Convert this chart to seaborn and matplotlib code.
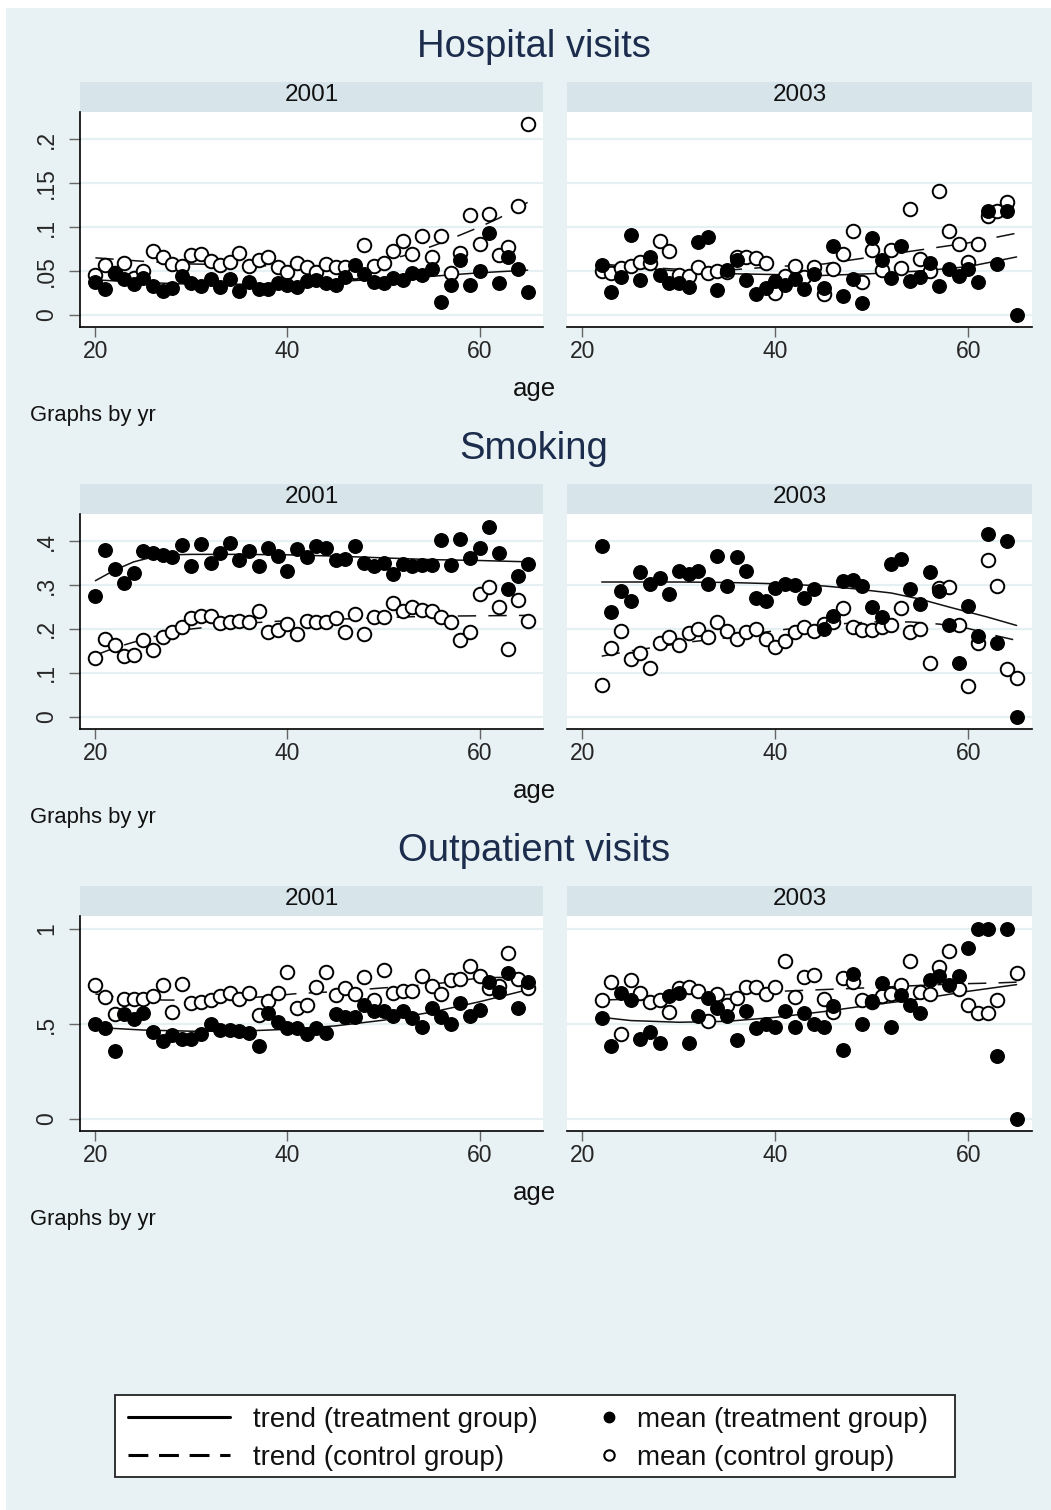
import numpy as np
import pandas as pd
import matplotlib
matplotlib.use("Agg")
import matplotlib.pyplot as plt
from matplotlib.lines import Line2D
from matplotlib.patches import Rectangle
import seaborn as sns

sns.set_theme(style="white")
plt.rcParams['font.family'] = ['Liberation Sans', 'DejaVu Sans']

# ---------------- data ----------------
ages_2001 = np.arange(20, 66)
ages_2003 = np.arange(22, 66)
nan = np.nan

hosp_2001_treat = [0.037, 0.030, 0.048, 0.041, 0.035, 0.042, 0.033, 0.027, 0.031, 0.044,
                   0.036, 0.033, 0.041, 0.032, 0.041, 0.027, 0.037, 0.030, 0.030, 0.036,
                   0.034, 0.032, 0.039, 0.040, 0.036, 0.034, 0.043, 0.057, 0.047, 0.038,
                   0.036, 0.042, 0.040, 0.048, 0.045, 0.052, 0.015, 0.034, 0.062, 0.034,
                   0.050, 0.093, 0.036, 0.066, 0.052, 0.026]
hosp_2001_ctrl = [0.045, 0.057, 0.048, 0.059, 0.042, 0.050, 0.073, 0.066, 0.058, 0.056,
                  0.068, 0.069, 0.061, 0.057, 0.060, 0.071, 0.056, 0.062, 0.066, 0.055,
                  0.049, 0.059, 0.055, 0.049, 0.058, 0.055, 0.055, 0.049, 0.080, 0.056,
                  0.059, 0.073, 0.084, 0.069, 0.090, 0.066, 0.090, 0.048, 0.071, 0.114,
                  0.081, 0.115, 0.068, 0.077, 0.124, 0.217]
hosp_2003_treat = [0.057, 0.026, 0.043, 0.091, 0.040, 0.066, 0.045, 0.036, 0.036, 0.032,
                   0.083, 0.089, 0.029, 0.051, 0.062, 0.040, 0.024, 0.031, 0.039, 0.034,
                   0.041, 0.030, 0.047, 0.031, 0.078, 0.022, 0.041, 0.014, 0.087, 0.063,
                   0.042, 0.079, 0.039, 0.043, 0.059, 0.033, 0.052, 0.044, 0.052, 0.037,
                   0.118, 0.058, 0.118, 0.000]
hosp_2003_ctrl = [0.050, 0.048, 0.053, 0.056, 0.060, 0.059, 0.084, 0.073, 0.046, 0.044,
                  0.055, 0.048, 0.050, 0.049, 0.066, 0.066, 0.065, 0.059, 0.025, 0.044,
                  0.056, 0.043, 0.055, 0.024, 0.052, 0.069, 0.095, 0.037, 0.074, 0.051,
                  0.074, 0.053, 0.121, 0.064, 0.050, 0.141, 0.096, 0.081, 0.060, 0.081,
                  0.112, 0.118, 0.129, nan]

smoke_2001_treat = [0.274, 0.381, 0.336, 0.305, 0.327, 0.378, 0.373, 0.368, 0.364, 0.391,
                    0.344, 0.393, 0.351, 0.373, 0.395, 0.357, 0.378, 0.343, 0.384, 0.366,
                    0.332, 0.382, 0.363, 0.390, 0.385, 0.357, 0.360, 0.388, 0.351, 0.343,
                    0.351, 0.325, 0.348, 0.343, 0.345, 0.345, 0.403, 0.345, 0.405, 0.362,
                    0.385, 0.433, 0.374, 0.291, 0.321, 0.348]
smoke_2001_ctrl = [0.134, 0.177, 0.163, 0.138, 0.141, 0.174, 0.153, 0.181, 0.192, 0.204,
                   0.226, 0.229, 0.229, 0.214, 0.216, 0.219, 0.216, 0.241, 0.193, 0.197,
                   0.212, 0.189, 0.219, 0.216, 0.216, 0.224, 0.193, 0.234, 0.189, 0.227,
                   0.227, 0.259, 0.242, 0.249, 0.243, 0.242, 0.227, 0.216, 0.175, 0.192,
                   0.280, 0.296, 0.250, 0.155, 0.265, 0.218]
smoke_2003_treat = [0.389, 0.239, 0.287, 0.264, 0.330, 0.303, 0.316, 0.279, 0.332, 0.325,
                    0.332, 0.303, 0.366, 0.297, 0.363, 0.332, 0.271, 0.264, 0.294, 0.303,
                    0.301, 0.271, 0.292, 0.199, 0.230, 0.309, 0.311, 0.297, 0.249, 0.227,
                    0.347, 0.360, 0.292, 0.258, 0.329, 0.286, 0.208, 0.122, 0.252, 0.183,
                    0.417, 0.167, 0.401, 0.000]
smoke_2003_ctrl = [0.073, 0.157, 0.195, 0.132, 0.146, 0.110, 0.168, 0.182, 0.164, 0.191,
                   0.199, 0.182, 0.217, 0.195, 0.178, 0.193, 0.199, 0.176, 0.160, 0.172,
                   0.193, 0.205, 0.195, 0.212, 0.216, 0.248, 0.205, 0.198, 0.198, 0.204,
                   0.208, 0.248, 0.193, 0.199, 0.123, 0.294, 0.295, 0.210, 0.071, 0.168,
                   0.358, 0.298, 0.108, 0.088]

out_2001_treat = [0.500, 0.479, 0.358, 0.553, 0.526, 0.560, 0.458, 0.411, 0.444, 0.419,
                  0.419, 0.447, 0.500, 0.468, 0.468, 0.461, 0.453, 0.382, 0.556, 0.509,
                  0.481, 0.479, 0.447, 0.477, 0.453, 0.554, 0.539, 0.535, 0.600, 0.570,
                  0.570, 0.544, 0.567, 0.530, 0.482, 0.582, 0.535, 0.500, 0.609, 0.542,
                  0.574, 0.719, 0.667, 0.767, 0.582, 0.723]
out_2001_ctrl = [0.707, 0.640, 0.553, 0.630, 0.630, 0.630, 0.649, 0.705, 0.565, 0.711,
                 0.611, 0.618, 0.626, 0.649, 0.661, 0.632, 0.661, 0.546, 0.623, 0.661,
                 0.772, 0.586, 0.602, 0.693, 0.772, 0.653, 0.688, 0.656, 0.746, 0.626,
                 0.782, 0.663, 0.674, 0.674, 0.754, 0.702, 0.658, 0.733, 0.737, 0.807,
                 0.751, 0.689, 0.700, 0.874, 0.737, 0.689]
out_2003_treat = [0.530, 0.384, 0.665, 0.625, 0.421, 0.456, 0.402, 0.647, 0.665, 0.402,
                  0.544, 0.639, 0.586, 0.544, 0.418, 0.570, 0.481, 0.500, 0.482, 0.570,
                  0.482, 0.558, 0.500, 0.482, 0.593, 0.363, 0.763, 0.500, 0.623, 0.714,
                  0.482, 0.653, 0.602, 0.556, 0.733, 0.751, 0.707, 0.751, 0.900, 1.000,
                  1.000, 0.333, 1.000, 0.000]
out_2003_ctrl = [0.626, 0.723, 0.447, 0.732, 0.665, 0.614, 0.626, 0.565, 0.689, 0.693,
                 0.675, 0.514, 0.658, 0.602, 0.635, 0.693, 0.693, 0.658, 0.693, 0.830,
                 0.644, 0.746, 0.760, 0.632, 0.565, 0.742, 0.720, 0.626, 0.614, 0.646,
                 0.658, 0.705, 0.830, 0.667, 0.658, 0.798, 0.882, 0.684, 0.602, 0.556,
                 0.556, 0.626, nan, 0.770]

# trend lines, read at a few ages
hosp_2001_treat_trend_age = [20, 25, 30, 35, 40, 45, 50, 55, 60, 65]
hosp_2001_treat_trend = [0.040, 0.037, 0.035, 0.035, 0.036, 0.038, 0.041, 0.044, 0.048, 0.051]
hosp_2001_ctrl_trend_age = [20, 25, 30, 35, 40, 45, 48, 50, 52, 54, 56, 58, 60, 62, 65]
hosp_2001_ctrl_trend = [0.065, 0.061, 0.058, 0.057, 0.055, 0.056, 0.058, 0.062, 0.067, 0.074,
                        0.082, 0.091, 0.100, 0.110, 0.128]
hosp_2003_treat_trend_age = [22, 25, 30, 35, 40, 45, 50, 55, 60, 65]
hosp_2003_treat_trend = [0.056, 0.054, 0.050, 0.047, 0.046, 0.045, 0.047, 0.050, 0.055, 0.066]
hosp_2003_ctrl_trend_age = [22, 25, 30, 35, 40, 45, 50, 55, 60, 65]
hosp_2003_ctrl_trend = [0.058, 0.055, 0.052, 0.051, 0.055, 0.058, 0.066, 0.074, 0.082, 0.093]

smoke_2001_treat_trend_age = [20, 22, 24, 26, 28, 30, 35, 40, 45, 50, 55, 60, 65]
smoke_2001_treat_trend = [0.310, 0.334, 0.353, 0.364, 0.369, 0.370, 0.370, 0.369, 0.366,
                          0.362, 0.358, 0.356, 0.353]
smoke_2001_ctrl_trend_age = [20, 22, 24, 26, 28, 30, 35, 40, 45, 50, 55, 60, 65]
smoke_2001_ctrl_trend = [0.140, 0.157, 0.170, 0.182, 0.193, 0.200, 0.212, 0.219, 0.222,
                         0.226, 0.229, 0.230, 0.231]
smoke_2003_treat_trend_age = [22, 25, 30, 35, 40, 45, 48, 52, 55, 58, 62, 65]
smoke_2003_treat_trend = [0.307, 0.307, 0.307, 0.306, 0.303, 0.298, 0.292, 0.282, 0.268,
                          0.250, 0.227, 0.208]
smoke_2003_ctrl_trend_age = [22, 25, 28, 31, 35, 38, 41, 44, 47, 50, 54, 57, 60, 63, 65]
smoke_2003_ctrl_trend = [0.138, 0.150, 0.160, 0.170, 0.180, 0.190, 0.199, 0.206, 0.212,
                         0.216, 0.216, 0.211, 0.201, 0.184, 0.174]

out_2001_treat_trend_age = [20, 25, 30, 35, 40, 45, 50, 55, 60, 65]
out_2001_treat_trend = [0.482, 0.468, 0.462, 0.462, 0.472, 0.490, 0.520, 0.562, 0.617, 0.680]
out_2001_ctrl_trend_age = [20, 22, 27, 30, 35, 38, 41, 45, 50, 53, 56, 60, 62, 65]
out_2001_ctrl_trend = [0.658, 0.643, 0.626, 0.625, 0.635, 0.645, 0.660, 0.670, 0.690, 0.700,
                       0.715, 0.742, 0.745, 0.738]
out_2003_treat_trend_age = [22, 25, 30, 35, 40, 45, 50, 55, 60, 65]
out_2003_treat_trend = [0.535, 0.518, 0.509, 0.514, 0.535, 0.565, 0.600, 0.632, 0.672, 0.707]
out_2003_ctrl_trend_age = [22, 26, 31, 35, 38, 42, 45, 49, 52, 56, 59, 63, 65]
out_2003_ctrl_trend = [0.626, 0.632, 0.644, 0.654, 0.667, 0.675, 0.681, 0.689, 0.696, 0.705,
                       0.711, 0.716, 0.720]

titles = ["Hospital visits", "Smoking", "Outpatient visits"]
years = ["2001", "2003"]
yticks = [[0, 0.05, 0.1, 0.15, 0.2], [0, 0.1, 0.2, 0.3, 0.4], [0, 0.5, 1]]
yticklabels = [["0", ".05", ".1", ".15", ".2"], ["0", ".1", ".2", ".3", ".4"], ["0", ".5", "1"]]
ylims = [(-0.0136, 0.2307), (-0.028, 0.462), (-0.063, 1.068)]

panels = [
    [(ages_2001, hosp_2001_treat, hosp_2001_ctrl,
      hosp_2001_treat_trend_age, hosp_2001_treat_trend, hosp_2001_ctrl_trend_age, hosp_2001_ctrl_trend),
     (ages_2003, hosp_2003_treat, hosp_2003_ctrl,
      hosp_2003_treat_trend_age, hosp_2003_treat_trend, hosp_2003_ctrl_trend_age, hosp_2003_ctrl_trend)],
    [(ages_2001, smoke_2001_treat, smoke_2001_ctrl,
      smoke_2001_treat_trend_age, smoke_2001_treat_trend, smoke_2001_ctrl_trend_age, smoke_2001_ctrl_trend),
     (ages_2003, smoke_2003_treat, smoke_2003_ctrl,
      smoke_2003_treat_trend_age, smoke_2003_treat_trend, smoke_2003_ctrl_trend_age, smoke_2003_ctrl_trend)],
    [(ages_2001, out_2001_treat, out_2001_ctrl,
      out_2001_treat_trend_age, out_2001_treat_trend, out_2001_ctrl_trend_age, out_2001_ctrl_trend),
     (ages_2003, out_2003_treat, out_2003_ctrl,
      out_2003_treat_trend_age, out_2003_treat_trend, out_2003_ctrl_trend_age, out_2003_ctrl_trend)],
]

# ---------------- figure ----------------
W, H = 1051, 1510
bg = '#e8f1f3'
strip_col = '#d7e5ea'
grid_col = '#e6eff2'
dash_style = (0, (12, 8))

fig = plt.figure(figsize=(W / 100, H / 100), dpi=100, facecolor='white')
fig.patches.append(Rectangle((6 / W, 0), 1 - 6 / W, 1 - 8 / H, transform=fig.transFigure,
                             facecolor=bg, edgecolor='none', zorder=-10))


def px_axes(x0, y0, x1, y1):
    return fig.add_axes([x0 / W, 1 - y1 / H, (x1 - x0) / W, (y1 - y0) / H])


col_x = [(80, 543), (567, 1032)]

for r in range(3):
    dy = 402 * r
    fig.text(534 / W, 1 - (47 + dy) / H, titles[r], ha='center', va='center',
             fontsize=27.5, color='#1c2c4c')
    for c in range(2):
        x0, x1 = col_x[c]
        # strip header
        sax = px_axes(x0, 82 + dy, x1, 112 + dy)
        sax.set_facecolor(strip_col)
        sax.set_xticks([])
        sax.set_yticks([])
        for s in sax.spines.values():
            s.set_visible(False)
        sax.text(0.5, 0.57, years[c], ha='center', va='center', fontsize=17.5,
                 color='#111111', transform=sax.transAxes)

        ages, treat, ctrl, tt_age, tt, ct_age, ct = panels[r][c]
        ax = px_axes(x0, 112 + dy, x1, 327 + dy)
        ax.set_facecolor('white')
        for yv in yticks[r]:
            ax.axhline(yv, color=grid_col, lw=1.6, zorder=0)

        sns.lineplot(x=tt_age, y=tt, ax=ax, color='#111111', lw=1.1, zorder=2)
        sns.lineplot(x=ct_age, y=ct, ax=ax, color='#111111', lw=1.1, zorder=2,
                     linestyle=dash_style)

        df = pd.DataFrame({'age': ages, 'treat': treat, 'ctrl': ctrl})
        sns.scatterplot(data=df, x='age', y='ctrl', ax=ax, s=95, color='white',
                        edgecolor='black', linewidth=1.4, zorder=3)
        sns.scatterplot(data=df, x='age', y='treat', ax=ax, s=95, color='black',
                        edgecolor='black', linewidth=1.0, zorder=4)

        ax.set_xlim(18.4, 66.6)
        ax.set_ylim(*ylims[r])
        ax.set_xlabel('')
        ax.set_ylabel('')
        ax.set_xticks([20, 40, 60])
        ax.set_xticklabels(['20', '40', '60'], fontsize=16.5)
        ax.tick_params(axis='x', length=7, width=1, color='#666666', pad=2, direction='out',
                       bottom=True)
        ax.spines['top'].set_visible(False)
        ax.spines['right'].set_visible(False)
        ax.spines['bottom'].set_color('black')
        ax.spines['bottom'].set_linewidth(1.2)
        if c == 0:
            ax.set_yticks(yticks[r])
            ax.set_yticklabels(yticklabels[r], fontsize=16.5, rotation=90, va='center')
            ax.tick_params(axis='y', length=8, width=1, color='#666666', pad=8,
                           direction='out', left=True)
            ax.spines['left'].set_color('black')
            ax.spines['left'].set_linewidth(1.2)
        else:
            ax.set_yticks(yticks[r])
            ax.set_yticklabels([])
            ax.tick_params(axis='y', length=0)
            ax.spines['left'].set_visible(False)
        ax.grid(False)

    fig.text(534 / W, 1 - (389 + dy) / H, 'age', ha='center', va='center', fontsize=18.5,
             color='#111111')
    fig.text(30 / W, 1 - (415 + dy) / H, 'Graphs by yr', ha='left', va='center', fontsize=15.8,
             color='#111111')

# ---------------- legend ----------------
fig.patches.append(Rectangle((115 / W, 1 - 1477 / H), 840 / W, 82 / H, transform=fig.transFigure,
                             facecolor='white', edgecolor='#222222', lw=1.3, zorder=1))
leg_y = 1 - 1439 / H
line_handles = [
    Line2D([], [], color='black', lw=2.2),
    Line2D([], [], color='black', lw=2.2, linestyle=(0, (6.5, 3.5))),
]
line_labels = ['trend (treatment group)', 'trend (control group)']
mark_handles = [
    Line2D([], [], color='black', marker='o', linestyle='none', markersize=7.5),
    Line2D([], [], color='black', marker='o', linestyle='none', markersize=7.5,
           markerfacecolor='white', markeredgewidth=1.5),
]
mark_labels = ['mean (treatment group)', 'mean (control group)']

common = dict(fontsize=20, frameon=False, labelspacing=0.43, borderpad=0, borderaxespad=0)
leg1 = fig.legend(line_handles, line_labels, loc='center left',
                  bbox_to_anchor=(128 / W, leg_y), handlelength=3.67, handletextpad=0.83,
                  **common)
leg2 = fig.legend(mark_handles, mark_labels, loc='center left',
                  bbox_to_anchor=(595 / W, leg_y), handlelength=1.0, handletextpad=0.5,
                  **common)
for lg in (leg1, leg2):
    lg.set_zorder(5)
    for t in lg.get_texts():
        t.set_color('#111111')

fig.savefig('out.png', dpi=100, facecolor=fig.get_facecolor())
